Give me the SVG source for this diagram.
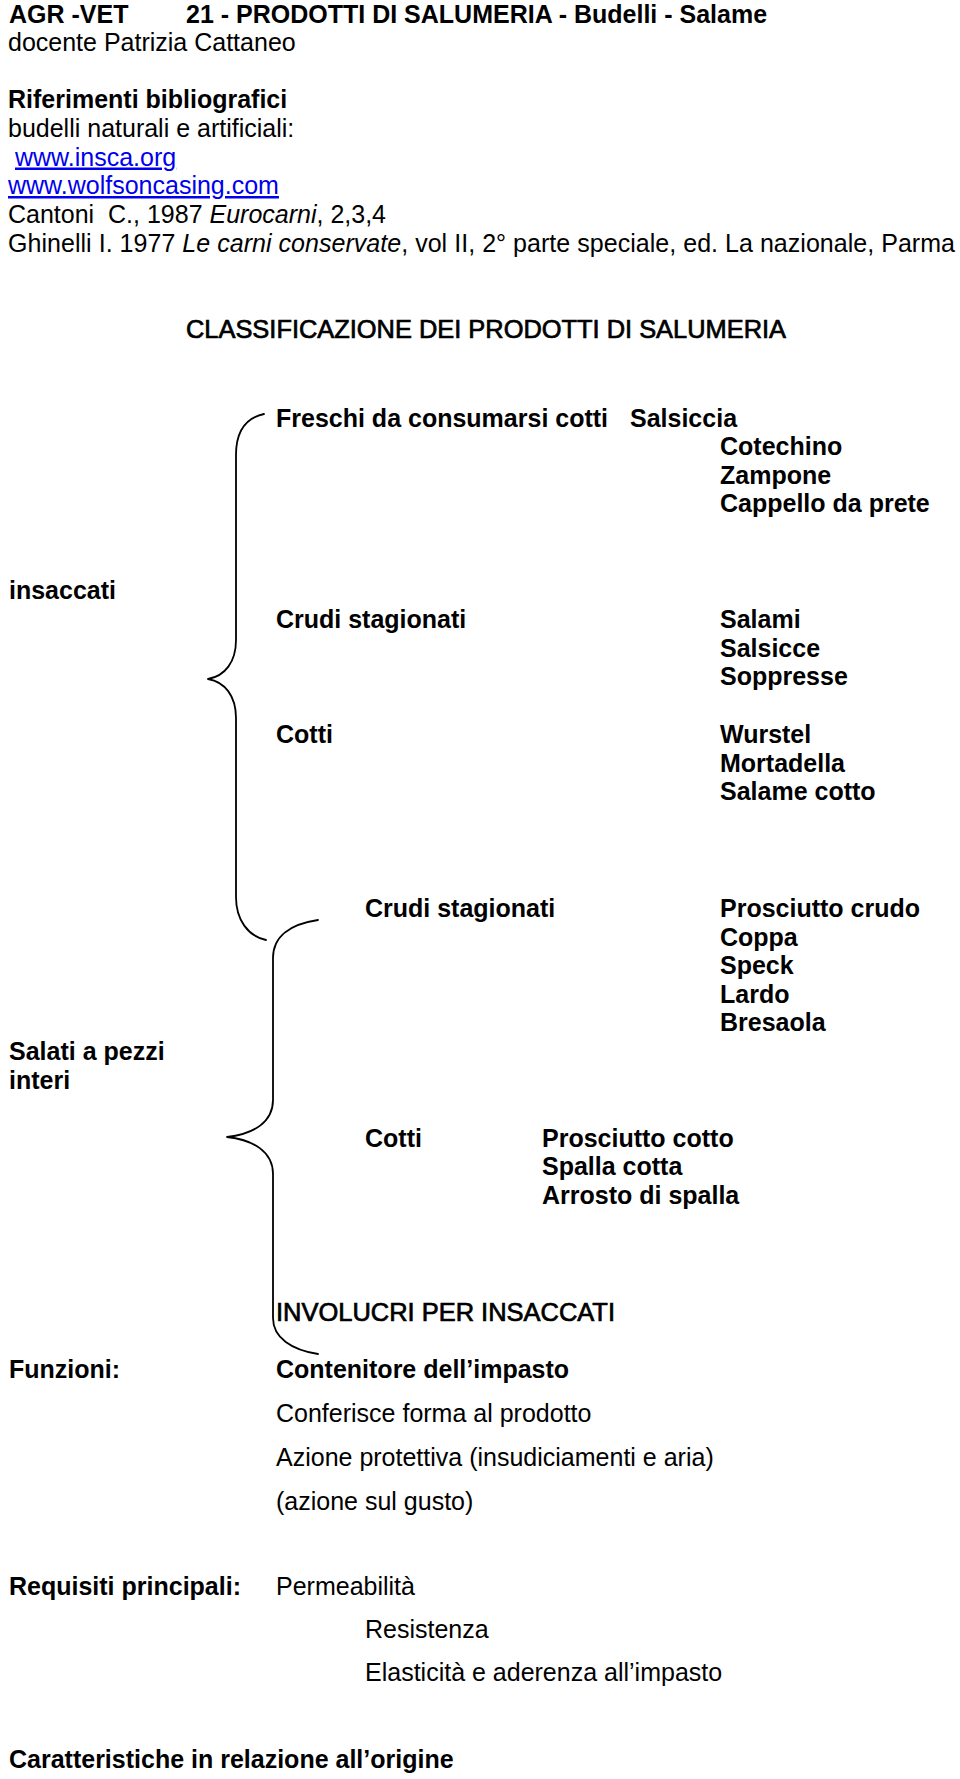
<svg xmlns="http://www.w3.org/2000/svg" width="960" height="1779" viewBox="0 0 960 1779">
<style>
text{font-family:"Liberation Sans",Arial,Helvetica,sans-serif;font-size:25px;fill:#000}
.b{font-weight:bold}
.fb{stroke:#000;stroke-width:0.7}
.i{font-style:italic}
.lnk{fill:#0000ee;text-decoration:underline}
.brace{fill:none;stroke:#000;stroke-width:1.8;stroke-linecap:round;stroke-linejoin:round}
</style>
<rect x="0" y="0" width="960" height="1779" fill="#fff"/>
<g id="header">
<text class="b" x="9" y="23">AGR -VET</text>
<text class="b" x="186" y="23">21 - PRODOTTI DI SALUMERIA - Budelli - Salame</text>
<text x="8" y="51">docente Patrizia Cattaneo</text>
<text class="b" x="8" y="108">Riferimenti bibliografici</text>
<text x="8" y="137">budelli naturali e artificiali:</text>
<text class="lnk" x="15" y="165.5">www.insca.org</text>
<text class="lnk" x="8" y="194">www.wolfsoncasing.com</text>
<text x="8" y="223" xml:space="preserve">Cantoni  C., 1987 <tspan class="i">Eurocarni</tspan>, 2,3,4</text>
<text x="8" y="251.5" textLength="947" lengthAdjust="spacing">Ghinelli I. 1977 <tspan class="i">Le carni conservate</tspan>, vol II, 2° parte speciale, ed. La nazionale, Parma</text>
</g>
<g id="title">
<text class="fb" x="186" y="338" textLength="600" lengthAdjust="spacingAndGlyphs">CLASSIFICAZIONE DEI PRODOTTI DI SALUMERIA</text>
</g>
<g id="connectors">
<path class="brace" d="M264,414 C246,418 236,432 236,455 L236,640 C236,662 225,676 208,679 C225,682 236,696 236,718 L236,897 C236,920 248,936 266,940"/>
<path class="brace" d="M318,920 C291,924 273,936 273,958 L273,1100 C273,1122 254,1134 227,1137 C254,1140 273,1152 273,1174 L273,1318 C273,1338 292,1350 318,1354"/>
</g>
<g id="insaccati">
<text class="b" x="9" y="599">insaccati</text>
</g>
<g id="freschi">
<text class="b" x="276" y="426.5">Freschi da consumarsi cotti</text>
<text class="b" x="630" y="426.5">Salsiccia</text>
<text class="b" x="720" y="455">Cotechino</text>
<text class="b" x="720" y="483.5">Zampone</text>
<text class="b" x="720" y="511.5">Cappello da prete</text>
</g>
<g id="crudi-insaccati">
<text class="b" x="276" y="628">Crudi stagionati</text>
<text class="b" x="720" y="628">Salami</text>
<text class="b" x="720" y="656.5">Salsicce</text>
<text class="b" x="720" y="685">Soppresse</text>
</g>
<g id="cotti-insaccati">
<text class="b" x="276" y="743">Cotti</text>
<text class="b" x="720" y="743">Wurstel</text>
<text class="b" x="720" y="771.5">Mortadella</text>
<text class="b" x="720" y="800">Salame cotto</text>
</g>
<g id="salati">
<text class="b" x="9" y="1060">Salati a pezzi</text>
<text class="b" x="9" y="1088.5">interi</text>
</g>
<g id="crudi-salati">
<text class="b" x="365" y="917">Crudi stagionati</text>
<text class="b" x="720" y="917">Prosciutto crudo</text>
<text class="b" x="720" y="945.5">Coppa</text>
<text class="b" x="720" y="974">Speck</text>
<text class="b" x="720" y="1002.5">Lardo</text>
<text class="b" x="720" y="1031">Bresaola</text>
</g>
<g id="cotti-salati">
<text class="b" x="365" y="1146.5">Cotti</text>
<text class="b" x="542" y="1146.5">Prosciutto cotto</text>
<text class="b" x="542" y="1175">Spalla cotta</text>
<text class="b" x="542" y="1203.5">Arrosto di spalla</text>
</g>
<g id="involucri">
<text class="fb" x="276" y="1321" textLength="339" lengthAdjust="spacingAndGlyphs">INVOLUCRI PER INSACCATI</text>
</g>
<g id="funzioni">
<text class="b" x="9" y="1378">Funzioni:</text>
<text class="b" x="276" y="1378">Contenitore dell’impasto</text>
<text x="276" y="1422">Conferisce forma al prodotto</text>
<text x="276" y="1466">Azione protettiva (insudiciamenti e aria)</text>
<text x="276" y="1509.5">(azione sul gusto)</text>
</g>
<g id="requisiti">
<text class="b" x="9" y="1595">Requisiti principali:</text>
<text x="276" y="1595">Permeabilità</text>
<text x="365" y="1638">Resistenza</text>
<text x="365" y="1681">Elasticità e aderenza all’impasto</text>
</g>
<g id="caratteristiche">
<text class="b" x="9" y="1768">Caratteristiche in relazione all’origine</text>
</g>
</svg>
